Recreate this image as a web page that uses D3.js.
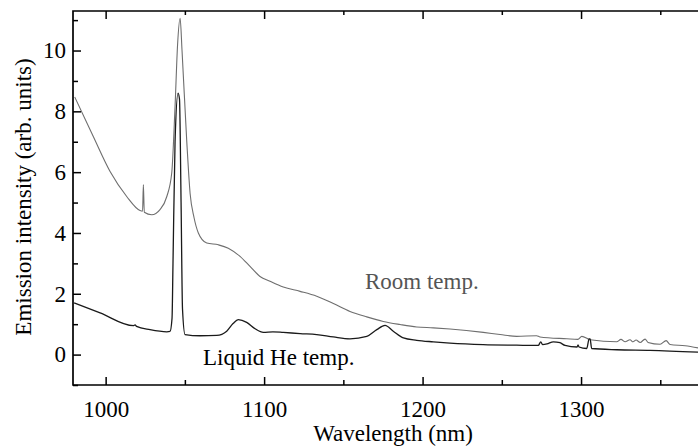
<!DOCTYPE html>
<html>
<head>
<meta charset="utf-8">
<script src="https://cdn.jsdelivr.net/npm/d3@7/dist/d3.min.js"></script>
<style>
  html, body { margin: 0; padding: 0; background: #fff; }
  svg { display: block; }
  text { font-family: "Liberation Serif", "Times New Roman", serif; }
</style>
</head>
<body>
<div id="chart"></div>
<script>
// ---- Data ----
const roomWavelength = [980.5, 992.2, 1002.8, 1013.3, 1021.7, 1023.3, 1023.8, 1024.4, 1029.1, 1034.3, 1038.6, 1041.7, 1043.8, 1045.4, 1047.0, 1048.2, 1051.2, 1053.3, 1055.8, 1058.5, 1063.8, 1071.1, 1077.4, 1084.8, 1091.1, 1097.4, 1103.7, 1112.1, 1122.7, 1133.2, 1143.7, 1154.2, 1164.8, 1175.2, 1185.8, 1196.3, 1206.8, 1217.3, 1238.3, 1248.9, 1259.4, 1271.9, 1274.1, 1291.0, 1298.0, 1300.5, 1305.7, 1322.5, 1325.2, 1327.8, 1330.9, 1332.8, 1334.7, 1337.3, 1340.4, 1342.3, 1349.9, 1353.7, 1356.2, 1365.7, 1373.9];
const roomIntensity  = [8.47, 7.17, 6.02, 5.20, 4.74, 4.72, 5.59, 4.68, 4.60, 4.77, 5.20, 5.97, 8.16, 10.2, 11.06, 10.0, 7.0, 5.3, 4.5, 4.0, 3.67, 3.61, 3.50, 3.23, 2.90, 2.57, 2.41, 2.22, 2.08, 1.92, 1.68, 1.42, 1.24, 1.09, 0.99, 0.91, 0.88, 0.84, 0.73, 0.66, 0.60, 0.62, 0.58, 0.52, 0.50, 0.60, 0.49, 0.42, 0.50, 0.42, 0.49, 0.42, 0.48, 0.40, 0.51, 0.40, 0.34, 0.46, 0.33, 0.29, 0.22];

const heWavelength = [980.1, 996.5, 1017.5, 1018.6, 1019.5, 1028.0, 1038.6, 1040.6, 1041.9, 1042.5, 1043.8, 1045.7, 1046.6, 1047.6, 1048.5, 1050.1, 1059.6, 1070.1, 1076.4, 1080.4, 1083.7, 1089.0, 1094.3, 1099.5, 1105.6, 1112.1, 1122.7, 1133.2, 1143.7, 1154.2, 1164.8, 1171.1, 1176.3, 1181.5, 1187.9, 1196.3, 1206.8, 1217.3, 1238.3, 1259.4, 1273.0, 1274.6, 1275.7, 1278.5, 1282.5, 1286.7, 1289.9, 1297.5, 1298.1, 1298.7, 1303.6, 1305.1, 1305.7, 1306.7, 1322.5, 1343.5, 1373.8];
const heIntensity  = [1.70, 1.37, 0.95, 0.98, 0.93, 0.82, 0.75, 0.76, 1.2, 3.0, 7.0, 8.6, 8.4, 5.0, 1.5, 0.66, 0.62, 0.63, 0.77, 1.02, 1.15, 1.06, 0.85, 0.73, 0.75, 0.73, 0.69, 0.66, 0.58, 0.52, 0.60, 0.82, 0.96, 0.77, 0.55, 0.47, 0.42, 0.38, 0.33, 0.31, 0.30, 0.42, 0.33, 0.35, 0.42, 0.39, 0.30, 0.25, 0.32, 0.25, 0.20, 0.52, 0.52, 0.20, 0.16, 0.14, 0.08];

const xMajorTicks = [1000, 1100, 1200, 1300];
const xMinorTicks = [1050, 1150, 1250, 1350];
const yMajorTicks = [0, 2, 4, 6, 8, 10];
const yMinorTicks = [-1, 1, 3, 5, 7, 9, 11];
const xLabel = "Wavelength (nm)";
const yLabel = "Emission intensity (arb. units)";
const roomLabel = "Room temp.";
const heLabel = "Liquid He temp.";

(function () {
// ---- Layout ----
const W = 698, H = 448;
const pLeft = 73, pTop = 11, pBottom = 385, pRight = 698;
const fontSize = 23;
const fontFam = '"Liberation Serif", "Times New Roman", serif';

const svg = d3.select("#chart").append("svg")
  .attr("width", W).attr("height", H);

const x = d3.scaleLinear().domain([979.4, 1373.8]).range([pLeft, pRight]);
const y = d3.scaleLinear().domain([-1, 11.3]).range([pBottom, pTop]);

const roomData = roomWavelength.map((w, i) => [w, roomIntensity[i]]);
const heData = heWavelength.map((w, i) => [w, heIntensity[i]]);

const line = d3.line().x(d => x(d[0])).y(d => y(d[1])).curve(d3.curveMonotoneX);

svg.append("path").datum(roomData)
  .attr("fill", "none").attr("stroke", "#6e6e6e").attr("stroke-width", 1.1)
  .attr("d", line);
svg.append("path").datum(heData)
  .attr("fill", "none").attr("stroke", "#1a1a1a").attr("stroke-width", 1.3)
  .attr("d", line);

function styleAxis(g) {
  g.selectAll(".domain").remove();
  g.selectAll("line").attr("stroke", "#000").attr("stroke-width", 1.5);
  g.selectAll("text").attr("font-size", fontSize).attr("fill", "#000")
    .attr("font-family", fontFam);
}

// bottom axis
svg.append("g").attr("transform", `translate(0,${pBottom})`)
  .call(d3.axisBottom(x).tickValues(xMajorTicks).tickSize(-8).tickPadding(16).tickFormat(d3.format("d")))
  .call(styleAxis);
svg.append("g").attr("transform", `translate(0,${pBottom})`)
  .call(d3.axisBottom(x).tickValues(xMinorTicks).tickSize(-5).tickFormat(""))
  .call(styleAxis);
// top axis
svg.append("g").attr("transform", `translate(0,${pTop})`)
  .call(d3.axisTop(x).tickValues(xMajorTicks).tickSize(-8).tickFormat(""))
  .call(styleAxis);
svg.append("g").attr("transform", `translate(0,${pTop})`)
  .call(d3.axisTop(x).tickValues(xMinorTicks).tickSize(-4).tickFormat(""))
  .call(styleAxis);
// left axis
svg.append("g").attr("transform", `translate(${pLeft},0)`)
  .call(d3.axisLeft(y).tickValues(yMajorTicks).tickSize(-8).tickPadding(7).tickFormat(d3.format("d")))
  .call(styleAxis);
svg.append("g").attr("transform", `translate(${pLeft},0)`)
  .call(d3.axisLeft(y).tickValues(yMinorTicks).tickSize(-5).tickFormat(""))
  .call(styleAxis);

// frame lines (top, left, bottom)
svg.append("path")
  .attr("d", `M${pRight + 2},${pTop}H${pLeft}V${pBottom}H${pRight + 2}`)
  .attr("fill", "none").attr("stroke", "#000").attr("stroke-width", 1.7);

// axis titles
svg.append("text")
  .attr("x", 393).attr("y", 441)
  .attr("text-anchor", "middle").attr("font-size", fontSize).attr("fill", "#000")
  .attr("font-family", fontFam)
  .text(xLabel);
svg.append("text")
  .attr("transform", `translate(31,197) rotate(-90)`)
  .attr("text-anchor", "middle").attr("font-size", fontSize).attr("fill", "#000")
  .attr("font-family", fontFam)
  .text(yLabel);

// series labels
svg.append("text")
  .attr("x", 365).attr("y", 289)
  .attr("font-size", fontSize).attr("fill", "#555")
  .attr("font-family", fontFam)
  .text(roomLabel);
svg.append("text")
  .attr("x", 203).attr("y", 365)
  .attr("font-size", fontSize).attr("fill", "#000")
  .attr("font-family", fontFam)
  .text(heLabel);
})();
</script>
</body>
</html>
